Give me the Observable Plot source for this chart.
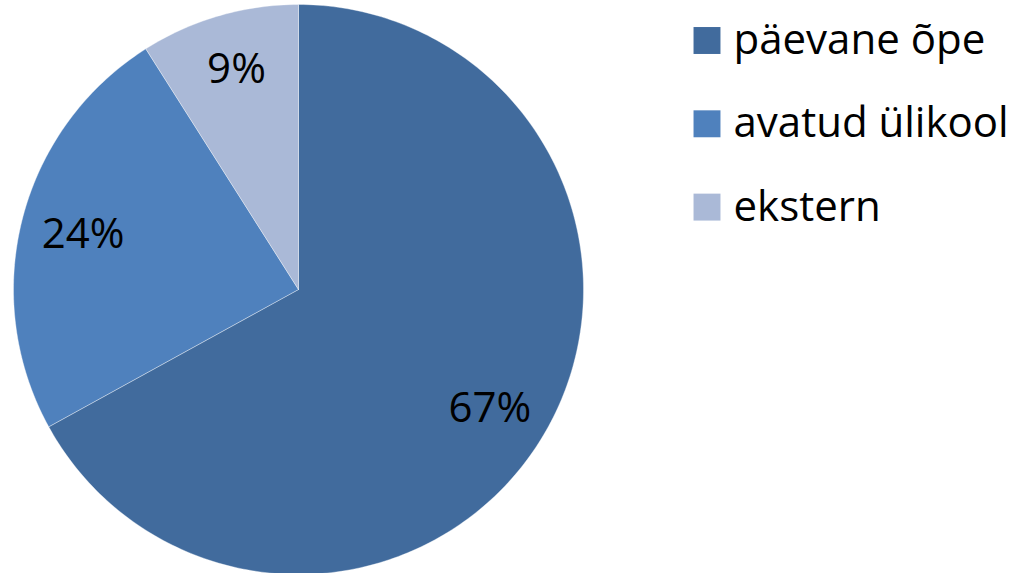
<!DOCTYPE html>
<html><head><meta charset="utf-8">
<script src="https://cdn.jsdelivr.net/npm/d3@7"></script>
<script src="https://cdn.jsdelivr.net/npm/@observablehq/plot@0.6"></script>
<style>html,body{margin:0;padding:0;background:#fff;overflow:hidden}</style>
</head><body><div id="chart"></div>
<script>
const categories = ["päevane õpe", "avatud ülikool", "ekstern"];
const values = [67, 24, 9];
const labels = ["67%", "24%", "9%"];
const colors = ["#416B9D", "#4F81BD", "#AAB9D7"];

const total = d3.sum(values);
let acc = 0;
const slices = values.map((v, i) => {
  const a0 = acc / total * 2 * Math.PI; acc += v;
  const a1 = acc / total * 2 * Math.PI;
  return {category: categories[i], value: v, label: labels[i], a0, a1, mid: (a0 + a1) / 2};
});
const pts = [];
for (const s of slices) {
  pts.push({category: s.category, x: 0, y: 0});
  const n = Math.max(2, Math.ceil((s.a1 - s.a0) / (Math.PI / 180)));
  for (let k = 0; k <= n; k++) {
    const a = s.a0 + (s.a1 - s.a0) * k / n;
    pts.push({category: s.category, x: Math.sin(a), y: Math.cos(a)});
  }
  pts.push({category: s.category, x: 0, y: 0});
}
const LRX = 0.78, LRY = 0.81;
const fs = 42;
const legendMarks = categories.flatMap((c, i) => [
  Plot.dot([c], {frameAnchor: "top-left", dx: 706.5, dy: 40 + i * 83.3, symbol: "square", r: 15.2, fill: d => d}),
  Plot.text([c], {frameAnchor: "top-left", dx: 733, dy: 40 + i * 83.3, text: d => d, textAnchor: "start", lineAnchor: "middle", fontSize: fs, fill: "#000"})
]);
const chart = Plot.plot({
  width: 1012, height: 573,
  marginTop: 0, marginRight: 0, marginBottom: 0, marginLeft: 0,
  style: {fontFamily: "'Open Sans', sans-serif", background: "#fff", overflow: "visible"},
  x: {domain: [-1, 1], range: [13, 583], axis: null},
  y: {domain: [-1, 1], range: [574, 4], axis: null},
  color: {domain: categories, range: colors},
  marks: [
    Plot.line(pts, {x: "x", y: "y", z: "category", fill: "category", stroke: "#ffffff", strokeWidth: 0.6, strokeOpacity: 0.6, curve: "linear"}),
    Plot.text(slices, {x: s => LRX * Math.sin(s.mid), y: s => LRY * Math.cos(s.mid), text: "label", fontSize: fs, dy: 2, fill: "#000"}),
    ...legendMarks
  ]
});
document.getElementById("chart").append(chart);
</script>
</body></html>
